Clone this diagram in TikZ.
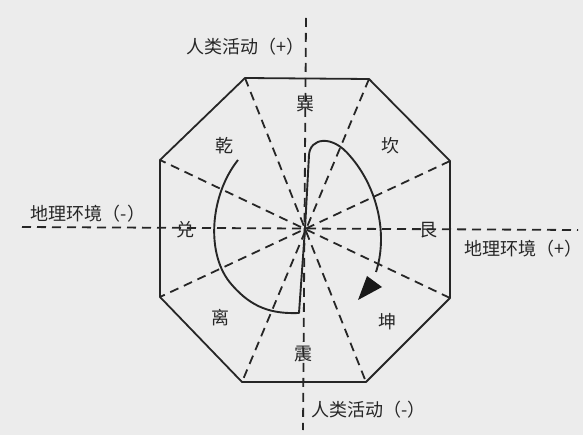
\documentclass[tikz,border=0pt]{standalone}
\usepackage{fontspec}
\setmainfont{Noto Sans CJK SC}
\begin{document}
\begin{tikzpicture}[x=1pt,y=-1pt,
  solidedge/.style={line width=1.8pt,black!85},
  dashline/.style={line width=1.8pt,black!85,dash pattern=on 9pt off 6pt},
  lbl/.style={font=\fontsize{18}{18}\selectfont,text=black!85,inner sep=1pt},
  curve/.style={line width=1.9pt,black!85}]
\fill[gray!15] (0,0) rectangle (583,435);
\useasboundingbox (0,0) rectangle (583,435);
% vertices
\coordinate (O) at (305,229);
\coordinate (v1) at (245,78);
\coordinate (v2) at (369,79);
\coordinate (v3) at (450,161);
\coordinate (v4) at (450,298);
\coordinate (v5) at (366,382);
\coordinate (v6) at (242,382);
\coordinate (v7) at (160,297);
\coordinate (v8) at (160,160);
% axes ends
\coordinate (atop) at (306,18);
\coordinate (abot) at (303,430);
\coordinate (aleft) at (22,227);
\coordinate (aright) at (578,230);
% octagon
\draw[solidedge,line join=round] (v1)--(v2)--(v3)--(v4)--(v5)--(v6)--(v7)--(v8)--cycle;
% dashed spokes
\foreach \a/\b in {v1/v5,v2/v6,v3/v7,v4/v8}{\draw[dashline] (\a)--(\b);}
\draw[dashline] (atop)--(abot);
\draw[dashline] (aleft)--(aright);
% labels
\node[lbl,anchor=east] (hp) at (306,47) {人类活动（+）};
\node[lbl,anchor=west] (hm) at (310,410) {人类活动（-）};
\node[lbl] (gm) at (88,214) {地理环境（-）};
\node[lbl,anchor=west] (gp) at (463,249) {地理环境（+）};
\node[lbl] (xun) at (305,104) {巽};
\node[lbl] (kan) at (390,146) {坎};
\node[lbl] (gen) at (428,230) {艮};
\node[lbl] (kun) at (387,322) {坤};
\node[lbl] (zhen) at (303,354) {震};
\node[lbl] (li) at (220,318) {离};
\node[lbl] (dui) at (185,230) {兑};
\node[lbl] (qian) at (224,146) {乾};
% spiral curve
\coordinate (c0) at (238,160);
\coordinate (c1) at (299,313);
\coordinate (c2) at (309,155);
\coordinate (c3) at (376,272);
\draw[curve,line join=round] (c0) .. controls (210,195) and (205,255) .. (232,285)
  .. controls (252,308) and (272,314) .. (c1) -- (O) -- (c2)
  .. controls (310,138) and (332,134) .. (350,156)
  .. controls (378,188) and (388,235) .. (c3);
\coordinate (t0) at (358,300);
\coordinate (t1) at (367,276);
\coordinate (t2) at (382,287);
\fill[black!90] (t0)--(t1)--(t2)--cycle;
\end{tikzpicture}
\end{document}
